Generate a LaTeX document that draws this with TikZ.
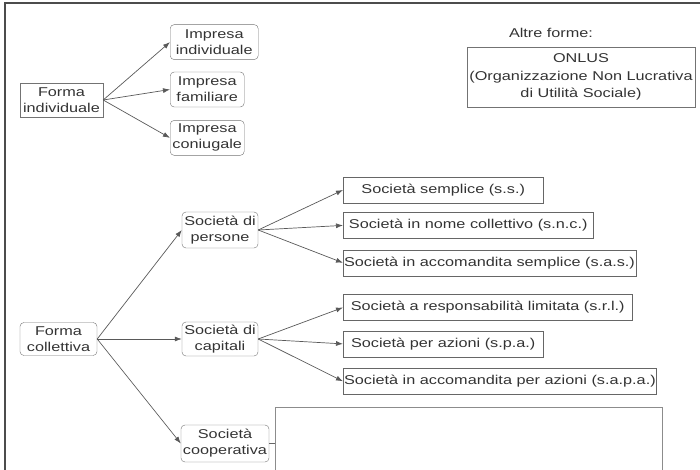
\documentclass[tikz,border=0pt]{standalone}
\usepackage{fontspec}
\setmainfont{Liberation Sans}[FakeStretch=1.27]
\usetikzlibrary{arrows.meta,positioning}

\begin{document}
\begin{tikzpicture}[
		x=1pt, y=-1pt,
		node distance=10pt,
		font=\fontsize{12.8}{16}\selectfont,
		block/.style={draw=black!55, rounded corners=4pt, text=black!80, inner sep=1.5pt, minimum height=35pt, align=center},
		flatblock/.style={draw=black!55, text=black!80, inner sep=1.5pt, minimum height=34pt, align=center},
		longblock/.style={draw=black!60, text=black!80, inner xsep=0.8pt, inner ysep=2pt, minimum height=26pt, align=center},
		link/.style={draw=black!65, line width=0.7pt, -{Latex[length=7pt,width=5pt]}},
	]
		\useasboundingbox (0,0) rectangle (700,470);
		\clip (0,0) rectangle (700,470);
		\draw[black!70, line width=1.8pt] (5,480) |- (710,3);

		% forma individuale
		\node (ind form) [flatblock, minimum width=83pt] at (61.5,100) {Forma\\individuale};
		\node (ind familiare) [block, minimum width=74pt, anchor=west] at (170,89.5) {Impresa\\familiare};
		\node (ind individuale) [block, minimum width=88pt, above=12pt of ind familiare.north west, anchor=south west] {Impresa\\individuale};
		\node (ind coniugale) [block, minimum width=74pt, below=13pt of ind familiare.south west, anchor=north west] {Impresa\\coniugale};

		\draw[link] (ind form.east) -- (ind individuale.west);
		\draw[link] (ind form.east) -- (ind familiare.west);
		\draw[link] (ind form.east) -- (ind coniugale.west);

		% altre forme
		\node (altre label) [text=black!80] at (551,33) {Altre forme:};
		\node (onlus) [flatblock, font=\fontsize{12.8}{17.5}\selectfont, minimum width=228pt, minimum height=60pt] at (581,77) {ONLUS\\(Organizzazione Non Lucrativa\\di Utilità Sociale)};

		% forma collettiva
		\node (col form) [block, minimum width=77pt, minimum height=33pt] at (58.5,339) {Forma\\collettiva};
		\node (col persone) [block, minimum width=76pt, minimum height=36pt] at (220,230) {Società di\\persone};
		\node (col capitali) [block, minimum width=76pt, minimum height=34pt] at (220,339) {Società di\\capitali};
		\node (col cooperativa) [block, minimum width=88pt, minimum height=37pt] at (225,443.5) {Società\\cooperativa};

		\draw[link] (col form.east) -- (col persone.west);
		\draw[link] (col form.east) -- (col capitali.west);
		\draw[link] (col form.east) -- (col cooperativa.west);

		\node (pers ss) [longblock, minimum width=200pt, anchor=west] at (343,190) {Società semplice (s.s.)};
		\node (pers snc) [longblock, minimum width=250pt, below=9pt of pers ss.south west, anchor=north west] {Società in nome collettivo (s.n.c.)};
		\node (pers sas) [longblock, minimum width=289pt, below=11pt of pers snc.south west, anchor=north west] {Società in accomandita semplice (s.a.s.)};

		\draw[link] (col persone.east) -- (pers ss.west);
		\draw[link] (col persone.east) -- (pers snc.west);
		\draw[link] (col persone.east) -- (pers sas.west);

		\node (cap srl) [longblock, minimum width=289pt, anchor=west] at (343,307.5) {Società a responsabilità limitata (s.r.l.)};
		\node (cap spa) [longblock, minimum width=200pt, below=10pt of cap srl.south west, anchor=north west] {Società per azioni (s.p.a.)};
		\node (cap sapa) [longblock, minimum width=312pt, below=11pt of cap spa.south west, anchor=north west] {Società in accomandita per azioni (s.a.p.a.)};

		\draw[link] (col capitali.east) -- (cap srl.west);
		\draw[link] (col capitali.east) -- (cap spa.west);
		\draw[link] (col capitali.east) -- (cap sapa.west);

		\node (coop box) [draw=black!45, minimum width=387pt, minimum height=80pt, anchor=north west] at (275,407) {};
		\draw[black!60, line width=0.7pt] (col cooperativa.east) -- (col cooperativa.east -| coop box.west);
	\end{tikzpicture}
\end{document}
